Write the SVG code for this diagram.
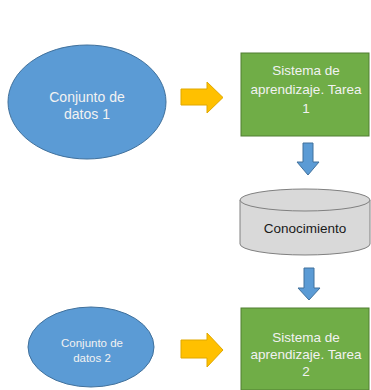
<svg xmlns="http://www.w3.org/2000/svg" width="371" height="390" viewBox="0 0 371 390">
<style>
.ell{fill:#5b9bd5;stroke:#41719c;stroke-width:1}
.box{fill:#70ad47;stroke:#507e32;stroke-width:1}
.oa{fill:#ffc000;stroke:#e0a800;stroke-width:1}
.ba{fill:#5b9bd5;stroke:#41719c;stroke-width:1}
.cyl{fill:#d9d9d9;stroke:#808080;stroke-width:1}
.lt{font-family:"Liberation Sans",Arial,sans-serif;fill:#f2f2f2;text-anchor:middle}
.dt{font-family:"Liberation Sans",Arial,sans-serif;fill:#1a1a1a;text-anchor:middle}
</style>
<rect width="371" height="390" fill="#ffffff"/>
<g id="datos1">
<ellipse class="ell" cx="87" cy="102" rx="79" ry="57"/>
<text class="lt" x="87" y="102" font-size="14">Conjunto de</text>
<text class="lt" x="87" y="119" font-size="14">datos 1</text>
</g>
<g id="sistema1">
<rect class="box" x="241" y="53" width="128" height="83"/>
<text class="lt" x="306" y="75" font-size="13.5">Sistema de</text>
<text class="lt" x="306" y="94" font-size="13.5">aprendizaje. Tarea</text>
<text class="lt" x="306" y="113" font-size="13.5">1</text>
</g>
<g id="conocimiento">
<path class="cyl" d="M240,200 L240,244 A65,11 0 0 0 370,244 L370,200"/>
<ellipse class="cyl" cx="305" cy="200" rx="65" ry="11"/>
<text class="dt" x="305" y="233" font-size="13.5">Conocimiento</text>
</g>
<g id="datos2">
<ellipse class="ell" cx="91" cy="347" rx="63" ry="40"/>
<text class="lt" x="92" y="347" font-size="11.5">Conjunto de</text>
<text class="lt" x="92" y="362" font-size="11.5">datos 2</text>
</g>
<g id="sistema2">
<rect class="box" x="241" y="308" width="128" height="82"/>
<text class="lt" x="306" y="342" font-size="13.5">Sistema de</text>
<text class="lt" x="306" y="359" font-size="13.5">aprendizaje. Tarea</text>
<text class="lt" x="306" y="376" font-size="13.5">2</text>
</g>
<g id="connectors">
<path class="oa" d="M181,89 L207,89 L207,82 L223,97.5 L207,113 L207,105 L181,105 Z"/>
<path class="oa" d="M181,340 L207,340 L207,333 L223,350 L207,367 L207,358 L181,358 Z"/>
<path class="ba" d="M303,143 L313,143 L313,162 L319,162 L308,175 L297,162 L303,162 Z"/>
<path class="ba" d="M304,268 L314,268 L314,288 L320,288 L309,300 L298,288 L304,288 Z"/>
</g>
</svg>
